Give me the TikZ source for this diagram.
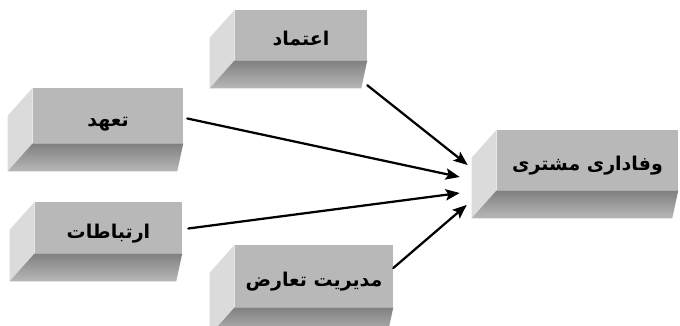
\documentclass[tikz,border=0pt]{standalone}
\usepackage{fontspec}
\newfontfamily\farsifont[Script=Arabic]{DejaVu Sans}
\TeXXeTstate=1
\usetikzlibrary{arrows.meta}
\definecolor{slabfront}{gray}{0.72}
\definecolor{slabside}{gray}{0.86}
\definecolor{slabdeep}{gray}{0.50}
\definecolor{slablow}{gray}{0.72}

\begin{document}
\begin{tikzpicture}[x=0.025cm,y=-0.025cm,line cap=round,line join=round,
  slab/.style={fill=slabfront,inner sep=0pt,text height=15pt,text depth=0pt,
    font=\farsifont\bfseries\fontsize{13.5}{15}\selectfont},
  link/.style={-{Stealth[length=10pt,width=8pt,inset=2pt]},line width=1.6pt}]
  \useasboundingbox (0,0) rectangle (680,326);
  \node[slab,minimum width=3.3cm,minimum height=1.25cm] (etemad) at (301,35) {\beginR اعتماد\endR};
  \node[slab,minimum width=3.75cm,minimum height=1.375cm] (tahod) at (108,115.5) {\beginR تعهد\endR};
  \node[slab,minimum width=3.675cm,minimum height=1.275cm] (ertebat) at (108.5,227.5) {\beginR ارتباطات\endR};
  \node[slab,minimum width=3.95cm,minimum height=1.55cm] (modiriat) at (314,276) {\beginR مدیریت تعارض\endR};
  \node[slab,minimum width=4.525cm,minimum height=1.5cm] (vafa) at (587.5,160) {\beginR وفاداری مشتری\endR};
  % side and bottom faces
  \foreach \n in {etemad,tahod,ertebat,modiriat,vafa}{
    \fill[slabside] (\n.north west) -- ++(-25,28) -- ([shift={(-25,28)}]\n.south west) -- (\n.south west) -- cycle;
    \shade[top color=slabdeep,bottom color=slablow] (\n.south west) -- (\n.south east) -- ([shift={(-6,28)}]\n.south east) -- ([shift={(-25,28)}]\n.south west) -- cycle;
  }
  \draw[link] ([shift={(0,25)}]etemad.south east) -- ([shift={(-29,5)}]vafa.west);
  \draw[link] ([shift={(4,3)}]tahod.east) -- ([shift={(-37,17)}]vafa.west);
  \draw[link] ([shift={(6,1)}]ertebat.east) -- ([shift={(-37,33)}]vafa.west);
  \draw[link] ([shift={(0,-8)}]modiriat.east) -- ([shift={(-30,45)}]vafa.west);
\end{tikzpicture}
\end{document}
